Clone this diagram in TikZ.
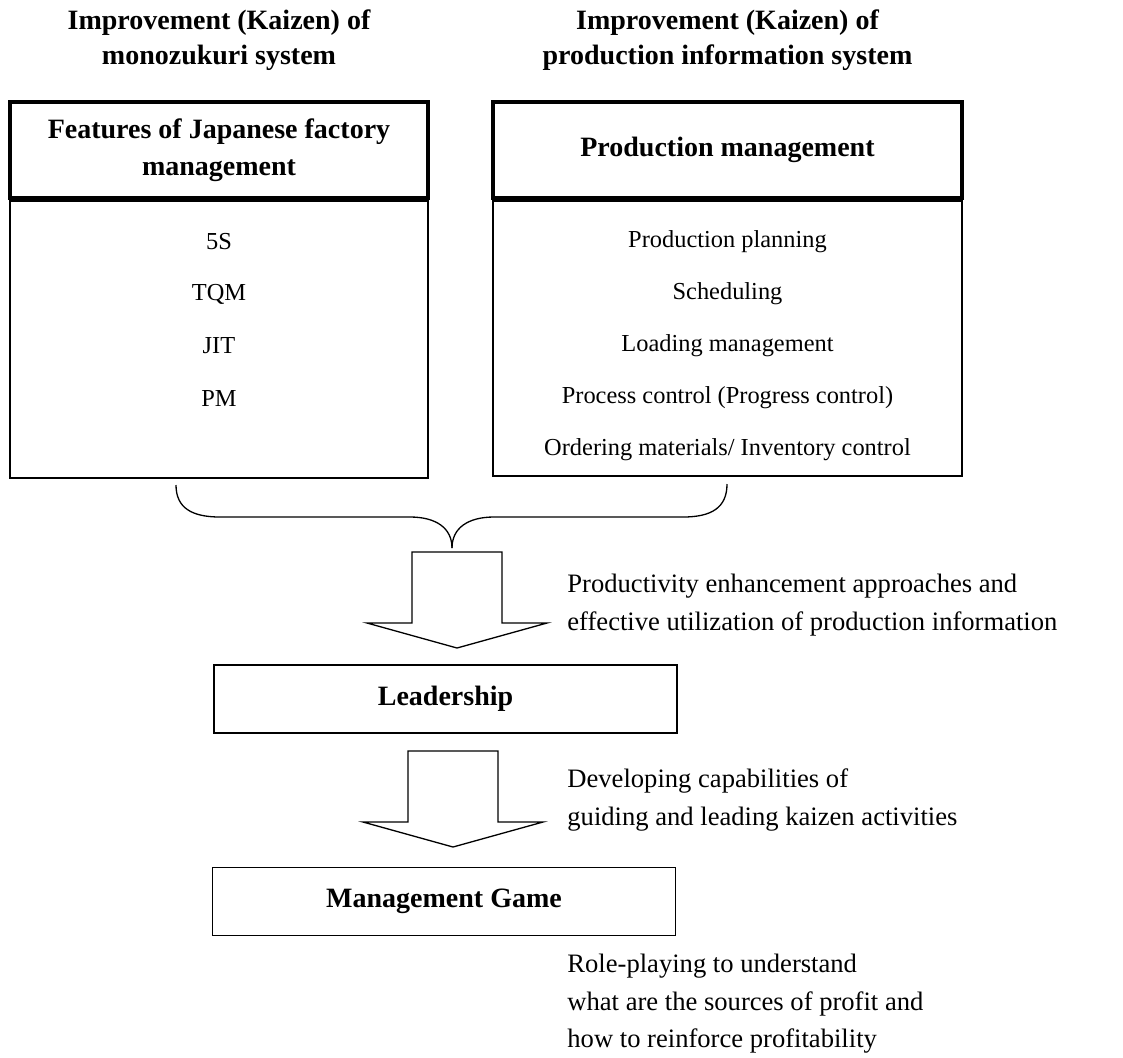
\documentclass[tikz,border=0pt]{standalone}
\usepackage{fontspec}
\setmainfont{Liberation Serif}
\usetikzlibrary{calc,positioning}

\tikzset{
    headbox/.style={draw, line width=2pt, align=center, inner sep=0pt,
        font=\fontsize{14}{18.5}\selectfont\bfseries},
    listbox/.style={draw, line width=1pt, inner sep=0pt},
    stagebox/.style={draw, line width=0.85pt, minimum width=231.5pt, minimum height=34pt,
        font=\fontsize{14}{17}\selectfont\bfseries},
    titletext/.style={align=center, font=\fontsize{14}{17.5}\selectfont\bfseries},
    itemtext/.style={font=\fontsize{12.2}{14}\selectfont},
    notetext/.style={align=left, anchor=west, inner sep=0pt, font=\fontsize{13.3}{18.7}\selectfont},
    blockarrow/.pic={
        \draw[line width=0.65pt, line join=miter]
            (-45,0) -- (45,0) -- (45,71) -- (90,71) -- (0,96) -- (-90,71) -- (-45,71) -- cycle;
    }
}

\begin{document}
\begin{tikzpicture}[x=0.5pt,y=-0.5pt]
    \useasboundingbox (0,0) rectangle (1123,1057);

    % column titles
    \node[titletext] (monoTitle) at (219,40) {Improvement (Kaizen) of\\monozukuri system};
    \node[titletext] (infoTitle) at (727.5,40) {Improvement (Kaizen) of\\production information system};

    % left column: header and list
    \node[headbox, minimum width=209pt, minimum height=48pt] (featHead) at (219,150)
        {Features of Japanese factory\\management};
    \node[listbox, minimum width=209pt, minimum height=138.5pt, anchor=north] (featBody) at (featHead.south) {};
    \node[headbox, minimum width=209pt, minimum height=48pt] at (featHead) {\phantom{x}};
    \foreach \txt [count=\i] in {5S,TQM,JIT,PM}
        \node[itemtext] (featItem\i) at (219,{190+52*\i}) {\txt};

    % right column: header and list
    \node[headbox, minimum width=234.5pt, minimum height=48pt] (prodHead) at (727.5,150)
        {Production management};
    \node[listbox, minimum width=234.5pt, minimum height=137.5pt, anchor=north] (prodBody) at (prodHead.south) {};
    \node[headbox, minimum width=234.5pt, minimum height=48pt] at (prodHead) {\phantom{x}};
    \foreach \txt [count=\i] in {Production planning,Scheduling,Loading management,
            Process control (Progress control),{Ordering materials/ Inventory control}}
        \node[itemtext] (prodItem\i) at (727.5,{190+52*\i}) {\txt};

    % brace joining both columns
    \coordinate (braceL) at (176,485);
    \coordinate (braceR) at (727,484);
    \coordinate (braceTip) at (452,548);
    \draw[line width=0.65pt]
        (braceL) .. controls (176,508) and (192,517) .. (220,517) -- (410,517)
        .. controls (436,517) and (452,528) .. (braceTip);
    \draw[line width=0.65pt]
        (braceR) .. controls (727,508) and (711,517) .. (683,517) -- (494,517)
        .. controls (468,517) and (452,528) .. (braceTip);

    % first step
    \pic at (457,552) {blockarrow};
    \node[notetext] (approachNote) at (567,605)
        {Productivity enhancement approaches and\\effective utilization of production information};
    \node[stagebox] (leadBox) at (445.5,699) {Leadership};

    % second step
    \pic at (453,751) {blockarrow};
    \node[notetext] (guideNote) at (567,800)
        {Developing capabilities of\\guiding and leading kaizen activities};
    \node[stagebox] (gameBox) at (444,901.5) {Management Game};

    % closing remark
    \node[notetext] (profitNote) at (567,1004)
        {Role-playing to understand\\what are the sources of profit and\\how to reinforce profitability};
\end{tikzpicture}
\end{document}
